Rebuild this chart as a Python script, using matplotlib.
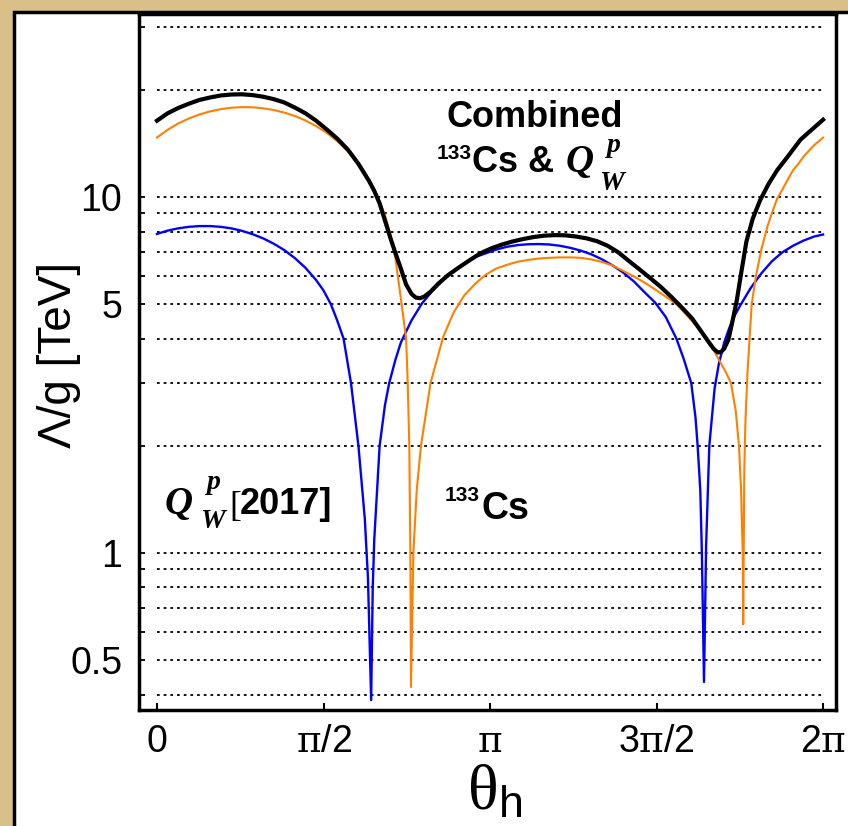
import numpy as np
import matplotlib
matplotlib.use("Agg")
import matplotlib.pyplot as plt
from matplotlib.patches import Rectangle
from matplotlib.ticker import FixedLocator, NullFormatter

# --- fonts ---
plt.rcParams['font.family'] = ['Liberation Sans', 'DejaVu Sans']
plt.rcParams['mathtext.fontset'] = 'custom'
plt.rcParams['mathtext.rm'] = 'Liberation Sans'
plt.rcParams['mathtext.bf'] = 'Liberation Sans:bold'
plt.rcParams['mathtext.it'] = 'Liberation Serif:italic:bold'
plt.rcParams['mathtext.tt'] = 'DejaVu Serif'
plt.rcParams['mathtext.cal'] = 'Liberation Serif'
plt.rcParams['mathtext.sf'] = 'Liberation Sans'

# --- data (theta in rad, Lambda/g in TeV) ---
theta_cs = [0, 0.1, 0.2, 0.3, 0.4, 0.5, 0.6, 0.7, 0.8, 0.9, 1.0, 1.1, 1.2, 1.3, 1.4,
            1.5, 1.6, 1.7, 1.8, 1.9, 2.0, 2.05, 2.1, 2.15, 2.2, 2.25, 2.30, 2.35,
            2.365, 2.38, 2.39, 2.396, 2.418, 2.45, 2.49, 2.58, 2.7, 2.8, 2.9, 3.0,
            3.1, 3.2, 3.3, 3.4, 3.5, 3.6, 3.7, 3.8, 3.9, 4.0, 4.1, 4.2, 4.3, 4.4,
            4.5, 4.6, 4.7, 4.8, 4.9, 5.0, 5.1, 5.2, 5.25, 5.31, 5.36, 5.415, 5.46,
            5.49, 5.51, 5.525, 5.53, 5.54, 5.55, 5.57, 5.61, 5.65, 5.7, 5.76, 5.8,
            5.85, 5.9, 5.95, 6.0, 6.05, 6.1, 6.15, 6.2, 6.25, 6.283]
lam_cs = [14.7, 15.46, 16.1, 16.63, 17.07, 17.41, 17.66, 17.83, 17.9, 17.88, 17.77,
          17.57, 17.28, 16.9, 16.42, 15.84, 15.16, 14.37, 13.45, 12.39, 11.17, 10.48,
          9.73, 8.9, 7.9, 6.7, 5.2, 4.0, 3.0, 2.0, 1.0, 0.42, 1.0, 1.5, 2.0, 3.0,
          4.05, 4.75, 5.3, 5.7, 6.05, 6.3, 6.45, 6.58, 6.66, 6.72, 6.75, 6.77, 6.77,
          6.75, 6.68, 6.57, 6.42, 6.2, 5.98, 5.75, 5.5, 5.25, 5.0, 4.65, 4.3, 3.9,
          3.72, 3.45, 3.25, 3.0, 2.5, 2.0, 1.5, 1.0, 0.63, 1.7, 2.3, 3.2, 5.0, 6.0,
          7.1, 8.3, 9.0, 9.9, 10.5, 11.2, 11.9, 12.4, 13.0, 13.5, 14.0, 14.4, 14.7]

theta_qw = [0, 0.1, 0.2, 0.3, 0.4, 0.5, 0.6, 0.7, 0.8, 0.9, 1.0, 1.1, 1.2, 1.3, 1.4,
            1.5, 1.57, 1.64, 1.7, 1.76, 1.83, 1.9, 1.96, 1.99, 2.02, 2.035, 2.05,
            2.1, 2.15, 2.19, 2.25, 2.3, 2.4, 2.5, 2.6, 2.7, 2.8, 2.9, 3.0, 3.1, 3.2,
            3.3, 3.4, 3.5, 3.6, 3.7, 3.8, 3.9, 4.0, 4.1, 4.2, 4.3, 4.4, 4.5, 4.6,
            4.7, 4.8, 4.9, 4.97, 5.04, 5.08, 5.1, 5.125, 5.14, 5.16, 5.18, 5.21,
            5.26, 5.3, 5.35, 5.4, 5.45, 5.5, 5.6, 5.7, 5.8, 5.9, 6.0, 6.1, 6.2, 6.283]
lam_qw = [7.88, 8.05, 8.17, 8.25, 8.29, 8.29, 8.25, 8.17, 8.04, 7.87, 7.66, 7.4, 7.1,
          6.74, 6.33, 5.85, 5.47, 5.0, 4.5, 4.0, 3.0, 2.0, 1.25, 0.85, 0.386, 0.8,
          1.1, 2.0, 2.6, 3.0, 3.5, 3.9, 4.5, 5.03, 5.46, 5.85, 6.2, 6.5, 6.78, 6.95,
          7.12, 7.25, 7.33, 7.37, 7.38, 7.36, 7.3, 7.2, 7.07, 6.9, 6.68, 6.42, 6.13,
          5.79, 5.4, 5.05, 4.6, 4.0, 3.5, 3.0, 2.4, 2.0, 1.5, 1.0, 0.434, 1.05, 2.0,
          2.9, 3.4, 3.9, 4.3, 4.65, 4.95, 5.55, 6.1, 6.6, 7.0, 7.3, 7.55, 7.75, 7.85]

theta_comb = [0, 0.1, 0.2, 0.3, 0.4, 0.5, 0.6, 0.7, 0.8, 0.9, 1.0, 1.1, 1.2, 1.3,
              1.4, 1.5, 1.6, 1.7, 1.8, 1.9, 2.0, 2.05, 2.1, 2.15, 2.2, 2.25, 2.3,
              2.35, 2.4, 2.44, 2.48, 2.52, 2.58, 2.65, 2.75, 2.85, 2.95, 3.05, 3.15,
              3.25, 3.35, 3.45, 3.55, 3.65, 3.75, 3.85, 3.95, 4.05, 4.15, 4.25, 4.35,
              4.45, 4.55, 4.65, 4.75, 4.85, 4.95, 5.05, 5.12, 5.19, 5.25, 5.29, 5.32,
              5.35, 5.39, 5.43, 5.47, 5.51, 5.56, 5.62, 5.69, 5.77, 5.85, 5.95, 6.07,
              6.18, 6.283]
lam_comb = [16.4, 17.2, 17.8, 18.3, 18.75, 19.05, 19.3, 19.42, 19.45, 19.35, 19.15,
            18.85, 18.45, 17.85, 17.2, 16.4, 15.5, 14.6, 13.6, 12.4, 11.1, 10.4,
            9.6, 8.6, 7.7, 6.95, 6.3, 5.68, 5.35, 5.22, 5.2, 5.25, 5.42, 5.7, 6.05,
            6.35, 6.65, 6.95, 7.17, 7.35, 7.5, 7.62, 7.72, 7.79, 7.82, 7.81, 7.75,
            7.66, 7.52, 7.3, 7.0, 6.62, 6.27, 5.93, 5.6, 5.25, 4.9, 4.55, 4.25, 3.97,
            3.75, 3.66, 3.67, 3.75, 3.97, 4.5, 5.14, 6.1, 7.5, 8.7, 9.81, 10.9, 11.9,
            13.0, 14.5, 15.5, 16.5]

grid_vals = [0.4, 0.5, 0.6, 0.7, 0.8, 0.9, 1, 2, 3, 4, 5, 6, 7, 8, 9, 10, 20, 30]
ytick_major = [0.5, 1, 5, 10]
ytick_labels = ['0.5', '1', '5', '10']
xtick_vals = [0, np.pi / 2, np.pi, 3 * np.pi / 2, 2 * np.pi]
xtick_labels = ['0', r'$\mathtt{π}$/2', r'$\mathtt{π}$', r'3$\mathtt{π}$/2', r'2$\mathtt{π}$']

W, H = 848, 826

# --- figure / frame ---
fig = plt.figure(figsize=(W / 100, H / 100), dpi=100)
fig.patch.set_facecolor('#d9bf88')
panel = Rectangle((13.5 / W, -0.1), 1.2, 1.1 - 12 / H, transform=fig.transFigure,
                  facecolor='white', edgecolor='black', linewidth=2.5, zorder=-1)
fig.patches.append(panel)

ax = fig.add_axes([139 / W, 1 - 710 / H, 697 / W, 696 / H])
ax.set_facecolor('white')
ax.set_yscale('log')
ax.set_xlim(-0.17, 2 * np.pi + 0.122)
ax.set_ylim(0.362, 32.7)

# dotted horizontal lines
for v in grid_vals:
    ax.plot([0, 2 * np.pi], [v, v], color='black', lw=1.3, ls=(0, (1.5, 2.2)), zorder=1)

ax.plot(theta_qw, lam_qw, color='#0000ff', lw=1.7, zorder=2)
ax.plot(theta_cs, lam_cs, color='#ff8000', lw=1.5, zorder=3)
ax.plot(theta_comb, lam_comb, color='black', lw=3.0, zorder=4, solid_joinstyle='round')

# ticks
ax.yaxis.set_major_locator(FixedLocator(ytick_major))
ax.yaxis.set_major_formatter(plt.FixedFormatter(ytick_labels))
ax.yaxis.set_minor_locator(FixedLocator([v for v in grid_vals if v not in ytick_major]))
ax.yaxis.set_minor_formatter(NullFormatter())
ax.set_xticks(xtick_vals)
ax.set_xticklabels(xtick_labels)
ax.tick_params(axis='y', which='both', direction='in', length=4, width=1.3,
               labelsize=27, pad=12, right=False)
ax.tick_params(axis='x', which='both', direction='in', length=5, width=1.5,
               labelsize=27, pad=10, top=False)
for s in ax.spines.values():
    s.set_linewidth(2.5)

ax.set_ylabel('Λ/g [TeV]', fontsize=33, ha='center', va='center')
ax.yaxis.set_label_coords(-0.115, 0.51)
ax.set_xlabel(r'$\mathcal{θ}_{\mathrm{h}}$', fontsize=46, ha='center', va='center')
ax.xaxis.set_label_coords(0.51, -0.118)


# annotations, placed in figure pixels (x from left, baseline y from top)
def put(x, y, s, size, **kw):
    fig.text(x / W, 1 - y / H, s, fontsize=size, va='baseline', **kw)


serif_bi = dict(family='Liberation Serif', style='italic', fontweight='bold')

put(535, 127, 'Combined', 26, fontweight='bold', ha='center')
put(437, 159, '133', 15, fontweight='bold')
put(472, 172, 'Cs &', 26, fontweight='bold')
put(566, 172, 'Q', 28, **serif_bi)
put(607, 152, 'p', 20, **serif_bi)
put(599, 190, 'W', 20, **serif_bi)

put(165, 514, 'Q', 28, **serif_bi)
put(207, 489, 'p', 20, **serif_bi)
put(200, 528, 'W', 20, **serif_bi)
put(229, 516, '[', 26, family='Liberation Serif')
put(240, 514, '2017]', 26, fontweight='bold')

put(445, 501, '133', 15, fontweight='bold')
put(481, 519, 'Cs', 27, fontweight='bold')

plt.savefig('out.png', dpi=100, facecolor=fig.get_facecolor())
